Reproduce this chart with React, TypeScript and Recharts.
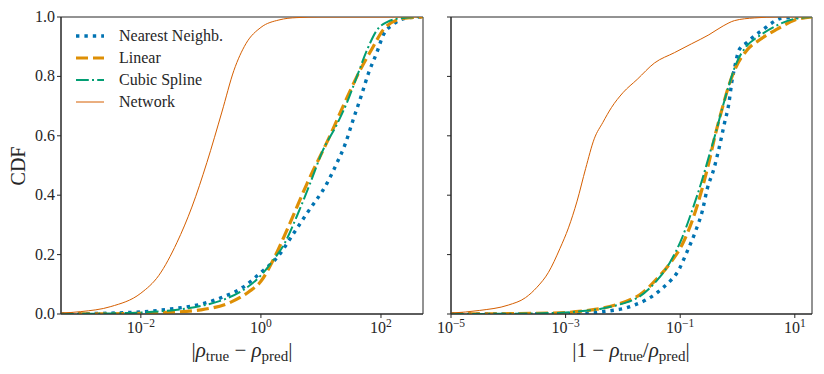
import React from "react";
import { LineChart, Line, XAxis, YAxis, ReferenceArea } from "recharts";

const FONT = "'Liberation Serif', 'DejaVu Serif', serif";
const INK = "#262626";

const C_NN = "#0173b2";
const C_LIN = "#de8f05";
const C_CUBIC = "#029e73";
const C_NET = "#d55e00";

const yTicks = [0, 0.2, 0.4, 0.6, 0.8, 1.0];

// left panel: |rho_true - rho_pred|, x read as log10 exponents
const absDomainExp = [-3.33, 2.7];
const absTickExp = [-2, 0, 2];

const absNearestExp = [-3.33, -2.5, -2.0, -1.5, -1.0, -0.6, -0.3, 0.0, 0.27, 0.54, 0.77, 1.1, 1.27, 1.4, 1.53, 1.68, 1.79, 1.93, 2.04, 2.2, 2.44, 2.7];
const absNearestCdf = [0.0, 0.003, 0.007, 0.017, 0.033, 0.06, 0.09, 0.14, 0.19, 0.27, 0.34, 0.44, 0.51, 0.57, 0.65, 0.74, 0.81, 0.88, 0.94, 0.975, 0.997, 1.0];

const absLinearExp = [-3.33, -2.0, -1.5, -1.0, -0.5, -0.2, 0.0, 0.2, 0.45, 0.77, 1.15, 1.37, 1.65, 1.87, 2.03, 2.27, 2.5, 2.7];
const absLinearCdf = [0.0, 0.002, 0.006, 0.014, 0.04, 0.075, 0.11, 0.18, 0.29, 0.44, 0.6, 0.7, 0.82, 0.9, 0.955, 0.99, 0.998, 1.0];

const absCubicExp = [-3.33, -2.5, -2.0, -1.5, -1.0, -0.6, -0.3, 0.0, 0.2, 0.4, 0.6, 0.82, 1.03, 1.27, 1.43, 1.6, 1.77, 1.93, 2.1, 2.37, 2.7];
const absCubicCdf = [0.0, 0.002, 0.005, 0.012, 0.027, 0.05, 0.08, 0.13, 0.18, 0.24, 0.33, 0.44, 0.55, 0.64, 0.71, 0.8, 0.89, 0.955, 0.983, 0.997, 1.0];

const absNetworkExp = [-3.33, -3.0, -2.5, -2.0, -1.7, -1.4, -1.15, -0.9, -0.65, -0.45, -0.25, 0.0, 0.3, 0.6, 1.0, 2.7];
const absNetworkCdf = [0.003, 0.008, 0.025, 0.07, 0.13, 0.24, 0.36, 0.51, 0.68, 0.82, 0.91, 0.965, 0.99, 0.998, 1.0, 1.0];

// right panel: |1 - rho_true/rho_pred|
const relDomainExp = [-5, 1.3];
const relTickExp = [-5, -3, -1, 1];

const relNearestExp = [-5, -3.5, -3.0, -2.6, -2.35, -2.15, -1.95, -1.8, -1.6, -1.45, -1.31, -1.16, -1.05, -0.88, -0.73, -0.61, -0.53, -0.41, -0.32, -0.23, -0.15, -0.1, -0.05, 0.03, 0.17, 0.32, 0.46, 0.6, 0.77, 1.3];
const relNearestCdf = [0.0, 0.0, 0.001, 0.003, 0.008, 0.013, 0.02, 0.03, 0.047, 0.065, 0.087, 0.114, 0.14, 0.21, 0.28, 0.35, 0.42, 0.49, 0.56, 0.64, 0.71, 0.78, 0.83, 0.89, 0.915, 0.94, 0.96, 0.98, 0.996, 1.0];

const relLinearExp = [-5, -4, -3.3, -3.0, -2.7, -2.4, -2.1, -1.85, -1.7, -1.45, -1.2, -0.95, -0.78, -0.62, -0.5, -0.38, -0.27, -0.15, -0.03, 0.15, 0.4, 0.7, 1.0, 1.3];
const relLinearCdf = [0.0, 0.001, 0.003, 0.005, 0.01, 0.018, 0.032, 0.05, 0.065, 0.11, 0.165, 0.24, 0.32, 0.42, 0.51, 0.61, 0.69, 0.77, 0.83, 0.885, 0.925, 0.96, 0.99, 1.0];

const relCubicExp = [-5, -4, -3.3, -3.0, -2.7, -2.4, -2.1, -1.85, -1.7, -1.42, -1.19, -0.96, -0.79, -0.62, -0.5, -0.38, -0.27, -0.15, -0.03, 0.15, 0.37, 0.67, 1.0, 1.3];
const relCubicCdf = [0.0, 0.001, 0.003, 0.005, 0.01, 0.017, 0.03, 0.045, 0.06, 0.11, 0.17, 0.26, 0.35, 0.45, 0.53, 0.61, 0.69, 0.77, 0.84, 0.9, 0.935, 0.97, 0.994, 1.0];

const relNetworkExp = [-5, -4.5, -4.0, -3.7, -3.5, -3.3, -3.1, -2.95, -2.8, -2.65, -2.5, -2.35, -2.2, -2.0, -1.75, -1.45, -1.1, -0.8, -0.5, -0.25, -0.05, 0.3, 0.7, 1.3];
const relNetworkCdf = [0.003, 0.012, 0.03, 0.055, 0.09, 0.14, 0.22, 0.29, 0.38, 0.49, 0.59, 0.645, 0.695, 0.745, 0.79, 0.845, 0.88, 0.91, 0.94, 0.97, 0.988, 0.997, 1.0, 1.0];

const pts = (exps: number[], cdf: number[]) =>
  exps.map((e, i) => ({ x: Math.pow(10, e), y: cdf[i] }));

const SERIES = [
  { name: "Nearest Neighb.", color: C_NN, width: 3.4, dash: "3.4 5" },
  { name: "Linear", color: C_LIN, width: 3.2, dash: "12 5" },
  { name: "Cubic Spline", color: C_CUBIC, width: 2, dash: "12.8 3.2 2 3.2" },
  { name: "Network", color: C_NET, width: 1, dash: undefined },
];

function PowTick(props: any) {
  const { x, y, payload } = props;
  const exp = Math.round(Math.log10(payload.value));
  const expText = exp < 0 ? "\u2212" + -exp : String(exp);
  return (
    <text x={x} y={y} dy={13} textAnchor="middle" fill={INK} fontFamily={FONT} fontSize={16}>
      <tspan>10</tspan>
      <tspan dy={-6} fontSize={11.5}>{expText}</tspan>
    </text>
  );
}

function CdfTick(props: any) {
  const { x, y, payload } = props;
  return (
    <text x={x} y={y} dy={5} textAnchor="end" fill={INK} fontFamily={FONT} fontSize={16}>
      {payload.value.toFixed(1)}
    </text>
  );
}

const NoTick = () => <g />;

function AbsLabel() {
  return (
    <text x={242} y={357} textAnchor="middle" fill={INK} fontFamily={FONT} fontSize={21}>
      <tspan>|</tspan>
      <tspan fontStyle="italic">ρ</tspan>
      <tspan dy={4} fontSize={15}>true</tspan>
      <tspan dy={-4}> − </tspan>
      <tspan fontStyle="italic">ρ</tspan>
      <tspan dy={4} fontSize={15}>pred</tspan>
      <tspan dy={-4}>|</tspan>
    </text>
  );
}

function RelLabel() {
  return (
    <text x={241} y={357} textAnchor="middle" fill={INK} fontFamily={FONT} fontSize={21}>
      <tspan>|1 − </tspan>
      <tspan fontStyle="italic">ρ</tspan>
      <tspan dy={4} fontSize={15}>true</tspan>
      <tspan dy={-4}>/</tspan>
      <tspan fontStyle="italic">ρ</tspan>
      <tspan dy={4} fontSize={15}>pred</tspan>
      <tspan dy={-4}>|</tspan>
    </text>
  );
}

function CdfLabel() {
  return (
    <text x={25} y={166} transform="rotate(-90 25 166)" textAnchor="middle" fill={INK} fontFamily={FONT} fontSize={20}>
      CDF
    </text>
  );
}

function Panel(props: {
  sets: { x: number; y: number }[][];
  domainExp: number[];
  tickExp: number[];
  showY: boolean;
  width: number;
  xLabel: React.ReactElement;
}) {
  const domain = [Math.pow(10, props.domainExp[0]), Math.pow(10, props.domainExp[1])];
  const ticks = props.tickExp.map((e) => Math.pow(10, e));
  return (
    <LineChart width={props.width} height={374} margin={{ top: 17, right: 7, bottom: 30, left: 21 }}>
      <XAxis
        dataKey="x"
        type="number"
        scale="log"
        domain={domain}
        ticks={ticks}
        interval={0}
        allowDataOverflow
        height={30}
        tickSize={4}
        tickMargin={2}
        stroke={INK}
        tick={<PowTick />}
        label={props.xLabel}
      />
      <YAxis
        type="number"
        domain={[0, 1]}
        ticks={yTicks}
        interval={0}
        allowDataOverflow
        width={40}
        tickSize={4}
        tickMargin={2}
        stroke={INK}
        tick={props.showY ? <CdfTick /> : <NoTick />}
        label={props.showY ? <CdfLabel /> : undefined}
      />
      <ReferenceArea x1={domain[0]} x2={domain[1]} y1={0} y2={1} fill="none" stroke={INK} strokeWidth={1} strokeOpacity={1} />
      {SERIES.map((s, i) => (
        <Line
          key={s.name}
          data={props.sets[i]}
          dataKey="y"
          type="monotone"
          stroke={s.color}
          strokeWidth={s.width}
          strokeDasharray={s.dash}
          strokeLinecap="butt"
          dot={false}
          activeDot={false}
          isAnimationActive={false}
        />
      ))}
    </LineChart>
  );
}

function LegendBox() {
  return (
    <div style={{ position: "absolute", left: 76, top: 25, fontFamily: FONT, fontSize: 16, color: INK }}>
      {SERIES.map((s) => (
        <div key={s.name} style={{ height: 22, display: "flex", alignItems: "center" }}>
          <svg width={28} height={10} style={{ marginRight: 15 }}>
            <line x1={0} y1={5} x2={28} y2={5} stroke={s.color} strokeWidth={s.width} strokeDasharray={s.dash} />
          </svg>
          <span style={{ whiteSpace: "nowrap" }}>{s.name}</span>
        </div>
      ))}
    </div>
  );
}

export default function App() {
  const absSets = [
    pts(absNearestExp, absNearestCdf),
    pts(absLinearExp, absLinearCdf),
    pts(absCubicExp, absCubicCdf),
    pts(absNetworkExp, absNetworkCdf),
  ];
  const relSets = [
    pts(relNearestExp, relNearestCdf),
    pts(relLinearExp, relLinearCdf),
    pts(relCubicExp, relCubicCdf),
    pts(relNetworkExp, relNetworkCdf),
  ];
  return (
    <div style={{ position: "absolute", left: 0, top: 0, width: 824, height: 374, background: "#fff", overflow: "hidden" }}>
      <div style={{ position: "absolute", left: 0, top: 0 }}>
        <Panel sets={absSets} domainExp={absDomainExp} tickExp={absTickExp} showY width={430} xLabel={<AbsLabel />} />
      </div>
      <div style={{ position: "absolute", left: 390, top: 0 }}>
        <Panel sets={relSets} domainExp={relDomainExp} tickExp={relTickExp} showY={false} width={429} xLabel={<RelLabel />} />
      </div>
      <LegendBox />
    </div>
  );
}
